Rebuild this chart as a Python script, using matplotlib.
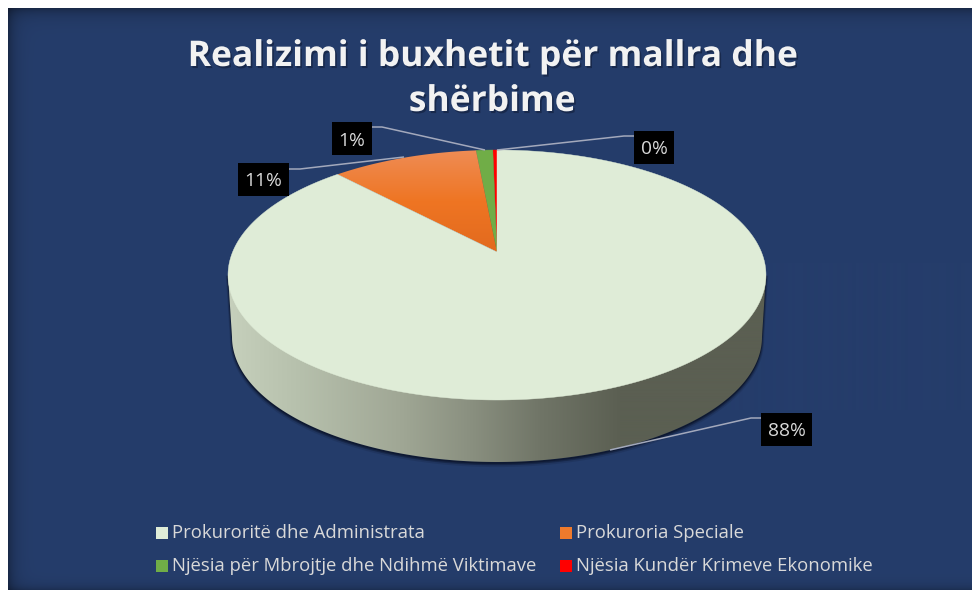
import numpy as np
import matplotlib
matplotlib.use('Agg')
import matplotlib.pyplot as plt
import matplotlib.patheffects as pe
from matplotlib.patches import Polygon, Rectangle

title_lines = ['Realizimi i buxhetit për mallra dhe', 'shërbime']
categories = ['Prokuroritë dhe Administrata', 'Prokuroria Speciale',
              'Njësia për Mbrojtje dhe Ndihmë Viktimave', 'Njësia Kundër Krimeve Ekonomike']
shares = [88.0, 10.5, 1.2, 0.3]
labels = ['88%', '11%', '1%', '0%']
colors = ['#dfecd7', '#ee7a2c', '#70ad47', '#ff0000']

# label boxes, x0, y0, x1, y1 in pixels
label_boxes = [(761, 413, 812, 446), (238, 163, 289, 196), (332, 122, 372, 155), (634, 131, 674, 164)]
leaders = [[(610, 450), (751, 418), (761, 418)],
           [(404, 157), (300, 169), (289, 169)],
           [(485, 150), (382, 127), (372, 127)],
           [(497, 150), (624, 136), (634, 136)]]
legend_pos = [(156, 533), (560, 533), (156, 566), (560, 566)]

W, H = 972, 590
CX, TOP, BOTTOM, APEX = 497, 150, 400, 252


def project(t):
    # t is clockwise from top, simple perspective of the pie disc
    u, v = np.sin(t), np.cos(t)
    c = (TOP + BOTTOM - 2 * APEX) / (BOTTOM - TOP)
    a = TOP * (1 + c) - APEX
    w = 1 + c * v
    return CX + 264.4 * u / w, (a * v + APEX) / w


def panel():
    yy, xx = np.mgrid[0:582, 0:964]
    shade = np.ones(xx.shape)
    shade *= 1 - 0.32 * np.exp(-yy / 7)
    shade *= 1 - 0.32 * np.exp(-xx / 7)
    shade *= 1 - 0.22 * np.exp(-(581 - yy) / 5)
    base = np.array([0x25, 0x3d, 0x6b]) / 255
    return shade[..., None] * base


fig = plt.figure(figsize=(W / 100, H / 100), dpi=100, facecolor='white')
ax = fig.add_axes([0, 0, 1, 1])
ax.axis('off')

ax.imshow(panel(), extent=(8, 972, 590, 8), aspect='auto', zorder=0)

# side wall of the pie
lo = np.linspace(-np.pi / 2, np.pi / 2, 200)
low_x = CX - 265 * np.sin(lo)
low_y = 337 + 125 * np.cos(lo)
wall = np.column_stack([np.r_[CX - 269, low_x[::-1], CX + 269], np.r_[275, low_y[::-1], 275]])

for off, al in [(3, 0.15), (2, 0.3), (1, 0.4)]:
    ax.add_patch(Polygon(wall + [0, off], fc='#0a1226', ec='#0a1226', lw=off, alpha=al, zorder=1))

grad_x = [228, 300, 400, 470, 540, 620, 766]
grad_c = [[198, 208, 188], [182, 192, 172], [160, 167, 149], [138, 144, 128], [112, 117, 103], [91, 95, 82], [91, 95, 82]]
xs = np.arange(228, 767)
grad = np.column_stack([np.interp(xs, grad_x, [c[i] for c in grad_c]) for i in range(3)]) / 255
im = ax.imshow(grad[None, :, :], extent=(228, 767, 470, 270), aspect='auto', zorder=2)
wall_patch = Polygon(wall, fc='none', ec='none', transform=ax.transData)
ax.add_patch(wall_patch)
im.set_clip_path(wall_patch)

# top of the pie, going counter clockwise from twelve o'clock
cum = 0
for i in [3, 2, 1, 0]:
    t = np.linspace(-cum, -(cum + shares[i]), max(3, int(shares[i] * 4))) * 2 * np.pi / 100
    cum += shares[i]
    px, py = project(t)
    pts = np.column_stack([np.r_[CX, px], np.r_[APEX, py]])
    if i == 1:
        ys = np.linspace(0, 1, 100)[:, None]
        c0, mid, c1 = np.array([238, 140, 84]), np.array([239, 117, 35]), np.array([226, 106, 30])
        col = np.where(ys < 0.5, c0 + (mid - c0) * ys * 2, mid + (c1 - mid) * (ys - 0.5) * 2)
        g = ax.imshow((col / 255)[:, None, :], extent=(330, 500, APEX, TOP), aspect='auto', zorder=3)
        wedge = Polygon(pts, fc='none', ec='none')
        ax.add_patch(wedge)
        g.set_clip_path(wedge)
    else:
        ax.add_patch(Polygon(pts, fc=colors[i], ec=colors[i], lw=0.3, zorder=3))

# data labels
for lab, box, line in zip(labels, label_boxes, leaders):
    ax.plot(*zip(*line), color='#a3a9bc', lw=1.1, zorder=4, solid_capstyle='butt')
    ax.add_patch(Rectangle(box[:2], box[2] - box[0], box[3] - box[1], fc='black', ec='none', zorder=5))
    ax.text((box[0] + box[2]) / 2, (box[1] + box[3]) / 2, lab, color='#d9d9d9', fontsize=13.8,
            family='Open Sans', ha='center', va='center_baseline', zorder=6)

# title
for line, y in zip(title_lines, [57, 102]):
    ax.text(492, y, line, color='#f2f2f2', fontsize=25.5, family='Open Sans', weight='bold',
            ha='center', va='center', zorder=6,
            path_effects=[pe.SimplePatchShadow(offset=(1.2, -1.5), shadow_rgbFace='#0d1730', alpha=0.5),
                          pe.Normal()])

# legend
for name, col, pos in zip(categories, colors, legend_pos):
    ax.add_patch(Rectangle((pos[0], pos[1] - 6), 12, 12, fc=col, ec='none', zorder=5))
    ax.text(pos[0] + 16, pos[1], name, color='#d9d9d9', fontsize=13.3, family='Open Sans',
            ha='left', va='center', zorder=6)

ax.set_xlim(0, W)
ax.set_ylim(H, 0)
fig.savefig('out.png', dpi=100, facecolor='white')
